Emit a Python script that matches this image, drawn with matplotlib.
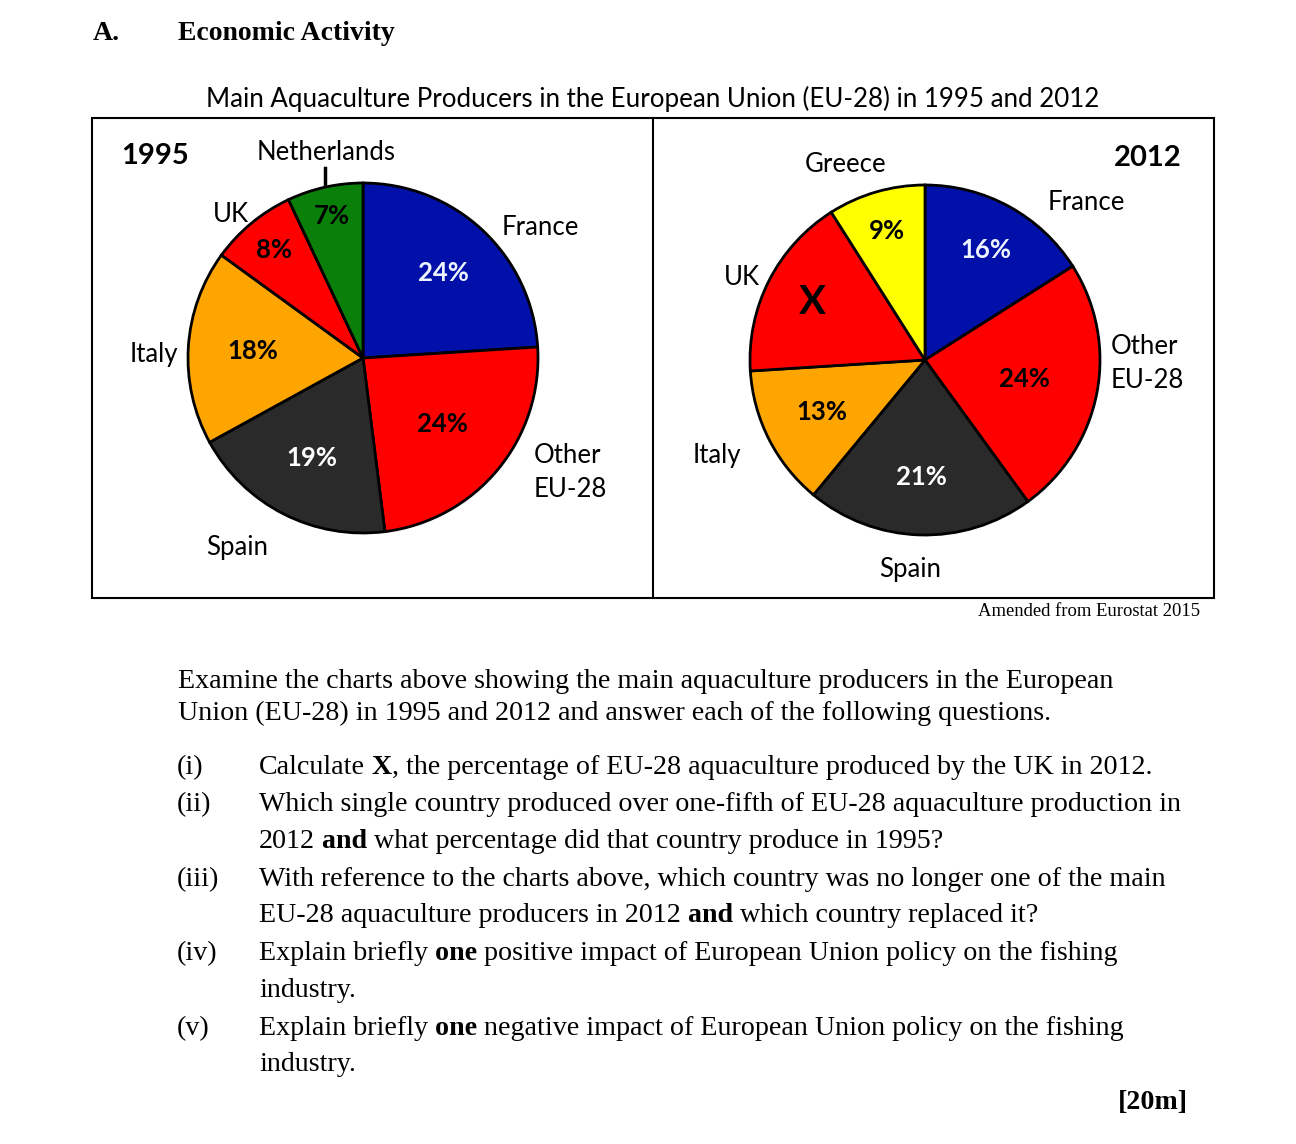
import matplotlib
matplotlib.use("Agg")
import matplotlib.pyplot as plt
from matplotlib.patches import Rectangle
from matplotlib.lines import Line2D
import numpy as np

# ---------------- data ----------------
countries_1995 = ["France", "Other EU-28", "Spain", "Italy", "UK", "Netherlands"]
shares_1995 = [24, 24, 19, 18, 8, 7]
pct_labels_1995 = ["24%", "24%", "19%", "18%", "8%", "7%"]

countries_2012 = ["France", "Other EU-28", "Spain", "Italy", "UK", "Greece"]
shares_2012 = [16, 24, 21, 13, 17, 9]
pct_labels_2012 = ["16%", "24%", "21%", "13%", "X", "9%"]

# ---------------- styles ----------------
BLUE, RED, DARK, ORANGE, GREEN, YELLOW = "#0010a8", "#ff0000", "#2a2a2a", "#ffa500", "#0a800a", "#ffff00"
colors_1995 = [BLUE, RED, DARK, ORANGE, RED, GREEN]
colors_2012 = [BLUE, RED, DARK, ORANGE, RED, YELLOW]
pct_colors_1995 = ["#eef4ff", "black", "white", "black", "black", "black"]
pct_colors_2012 = ["#eef4ff", "black", "white", "black", "black", "black"]
pct_dist_1995 = [0.67, 0.59, 0.64, 0.63, 0.80, 0.83]
pct_dist_2012 = [0.72, 0.58, 0.67, 0.66, 0.72, 0.77]
pct_size_1995 = [18.5, 18.5, 18.5, 18.5, 18.5, 18.5]
pct_size_2012 = [18.5, 18.5, 18.5, 18.5, 29, 18.5]

SANS = "Lato"
SERIF = "Liberation Serif"

W, H = 1296, 1144
fig = plt.figure(figsize=(W / 100, H / 100), dpi=100)
fig.patch.set_facecolor("white")
renderer = fig.canvas.get_renderer()


def fx(x):
    return x / W


def fy(y):
    return 1 - y / H


def ftext(x, y, s, **kw):
    return fig.text(fx(x), fy(y), s, **kw)


def draw_pie(cx, cy, R, values, colors, labels, dists, lcolors, lsizes):
    S = 2.4 * R
    ax = fig.add_axes([fx(cx - S / 2), fy(cy + S / 2), S / W, S / H])
    wedges, _ = ax.pie(values, colors=colors, startangle=90, counterclock=False,
                       radius=1.0, wedgeprops=dict(edgecolor="black", linewidth=2.0))
    ax.set_xlim(-S / 2 / R, S / 2 / R)
    ax.set_ylim(-S / 2 / R, S / 2 / R)
    ax.set_aspect("equal")
    ax.axis("off")
    for w, lab, d, c, fs in zip(wedges, labels, dists, lcolors, lsizes):
        a = np.deg2rad((w.theta1 + w.theta2) / 2)
        ax.text(d * np.cos(a), d * np.sin(a), lab, ha="center", va="center",
                color=c, fontsize=fs, fontweight="bold", family=SANS)
    return ax


# frame
frame_ax = fig.add_axes([0, 0, 1, 1])
frame_ax.set_xlim(0, W)
frame_ax.set_ylim(H, 0)
frame_ax.axis("off")
frame_ax.add_patch(Rectangle((92, 118), 1214 - 92, 598 - 118, fill=False, edgecolor="black", linewidth=1.5))
frame_ax.add_line(Line2D([653, 653], [118, 598], color="black", linewidth=1.5))
# Netherlands pointer
frame_ax.add_line(Line2D([325, 325], [168, 186], color="black", linewidth=2.5))

draw_pie(363, 358, 175, shares_1995, colors_1995, pct_labels_1995, pct_dist_1995, pct_colors_1995, pct_size_1995)
draw_pie(925, 360, 175, shares_2012, colors_2012, pct_labels_2012, pct_dist_2012, pct_colors_2012, pct_size_2012)

# headings
ftext(93, 40, "A.", family=SERIF, fontweight="bold", fontsize=20, ha="left", va="baseline")
ftext(178, 40, "Economic Activity", family=SERIF, fontweight="bold", fontsize=20, ha="left", va="baseline")
ftext(653, 96, "Main Aquaculture Producers in the European Union (EU-28) in 1995 and 2012",
      family=SANS, fontsize=18.6, ha="center", va="center_baseline")

# category labels
lab_kw = dict(family=SANS, fontsize=18.5, va="center_baseline")
ftext(155, 153, "1995", family=SANS, fontweight="bold", fontsize=21, ha="center", va="center_baseline")
ftext(326, 150, "Netherlands", ha="center", **lab_kw)
ftext(231, 212, "UK", ha="center", **lab_kw)
ftext(540, 225, "France", ha="center", **lab_kw)
ftext(154, 352, "Italy", ha="center", **lab_kw)
ftext(534, 453, "Other", ha="left", **lab_kw)
ftext(534, 487, "EU-28", ha="left", **lab_kw)
ftext(237, 545, "Spain", ha="center", **lab_kw)

ftext(1148, 155, "2012", family=SANS, fontweight="bold", fontsize=21, ha="center", va="center_baseline")
ftext(846, 162, "Greece", ha="center", **lab_kw)
ftext(1086, 200, "France", ha="center", **lab_kw)
ftext(742, 275, "UK", ha="center", **lab_kw)
ftext(1111, 344, "Other", ha="left", **lab_kw)
ftext(1111, 378, "EU-28", ha="left", **lab_kw)
ftext(717, 453, "Italy", ha="center", **lab_kw)
ftext(910, 567, "Spain", ha="center", **lab_kw)

ftext(1200, 616, "Amended from Eurostat 2015", family=SERIF, fontsize=13.4, ha="right", va="baseline")

# body text
BODY = 20.2


def rich(x, y, parts, size=BODY):
    cur = x
    for txt, bold in parts:
        t = fig.text(fx(cur), fy(y), txt, family=SERIF, fontsize=size,
                     fontweight="bold" if bold else "normal", ha="left", va="baseline")
        cur += t.get_window_extent(renderer=renderer).width


rich(178, 688, [("Examine the charts above showing the main aquaculture producers in the European", False)])
rich(178, 720, [("Union (EU-28) in 1995 and 2012 and answer each of the following questions.", False)])

items = [
    (774, "(i)", [("Calculate", False), (" X", True), (", the percentage of EU-28 aquaculture produced by the UK in 2012.", False)]),
    (811, "(ii)", [("Which single country produced over one-fifth of EU-28 aquaculture production in", False)]),
    (848, None, [("2012", False), (" and", True), (" what percentage did that country produce in 1995?", False)]),
    (886, "(iii)", [("With reference to the charts above, which country was no longer one of the main", False)]),
    (922, None, [("EU-28 aquaculture producers in 2012", False), (" and", True), (" which country replaced it?", False)]),
    (960, "(iv)", [("Explain briefly", False), (" one", True), (" positive impact of European Union policy on the fishing", False)]),
    (997, None, [("industry.", False)]),
    (1035, "(v)", [("Explain briefly", False), (" one", True), (" negative impact of European Union policy on the fishing", False)]),
    (1071, None, [("industry.", False)]),
]
for y, num, parts in items:
    if num:
        rich(177, y, [(num, False)])
    rich(259, y, parts)

ftext(1188, 1109, "[20m]", family=SERIF, fontweight="bold", fontsize=BODY, ha="right", va="baseline")

fig.savefig("out.png", dpi=100, facecolor="white")
